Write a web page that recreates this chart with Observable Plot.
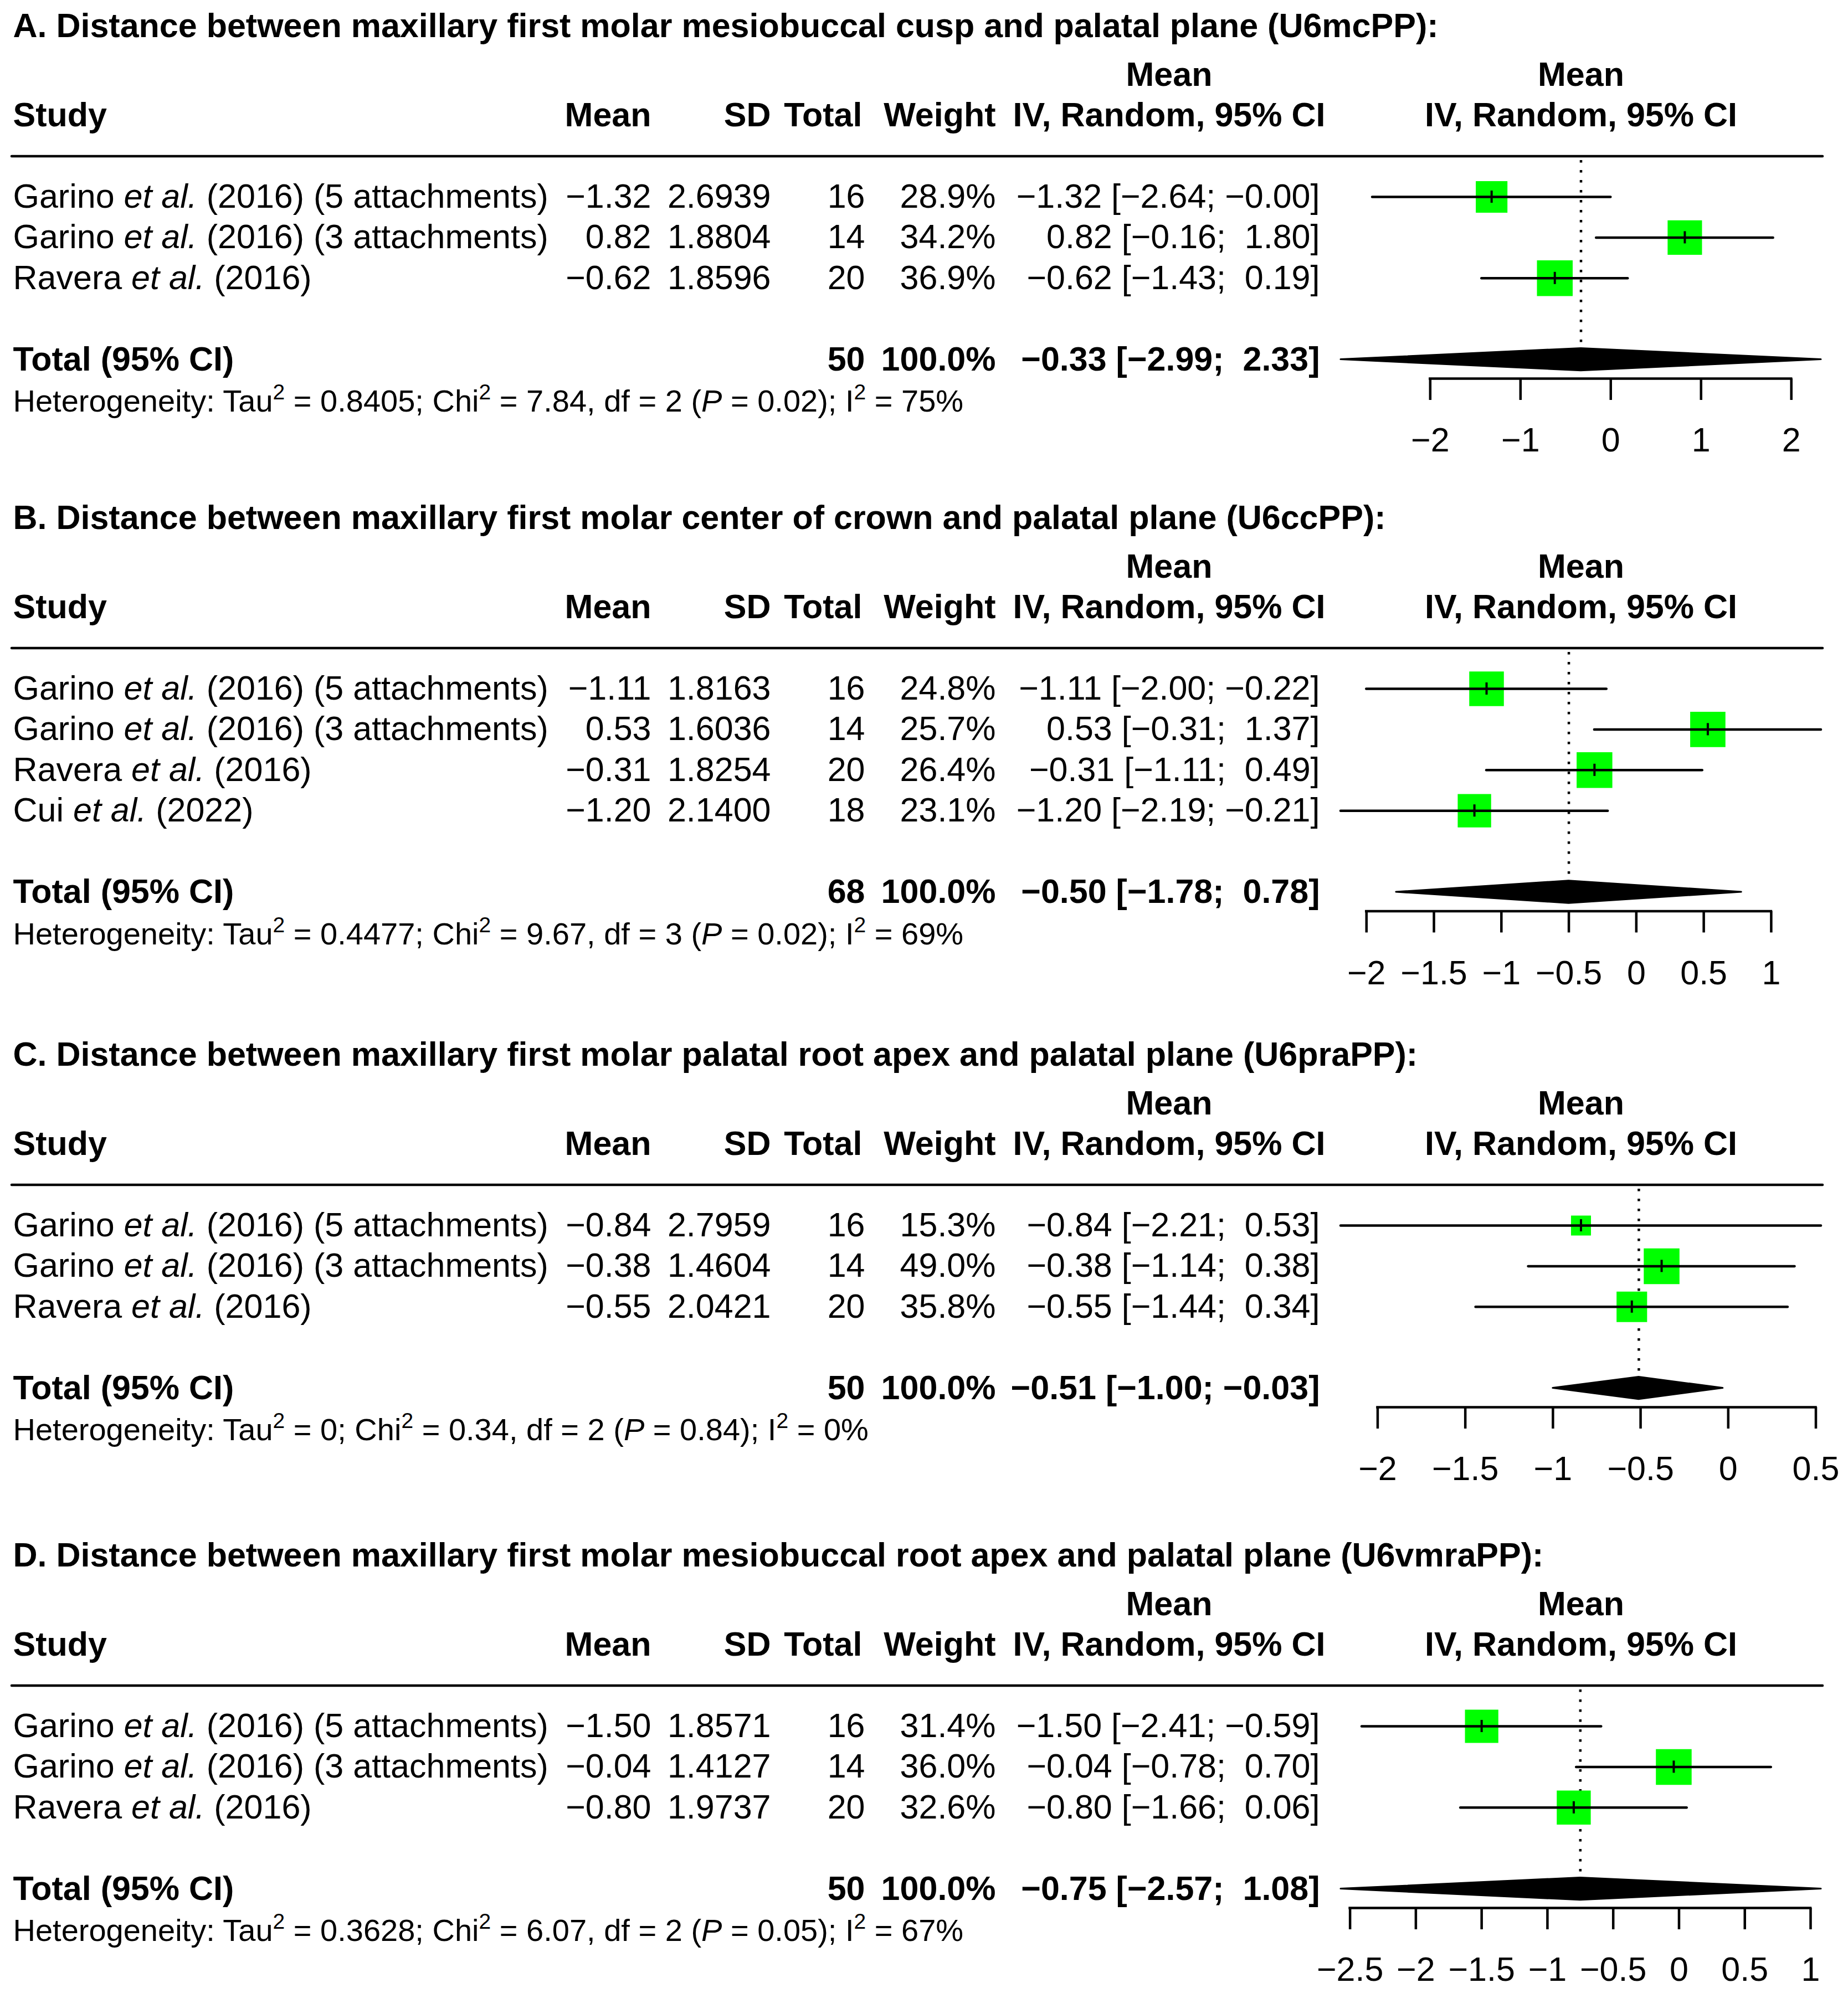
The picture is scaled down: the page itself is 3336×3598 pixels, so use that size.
<!DOCTYPE html>
<html>
<head>
<meta charset="utf-8">
<script src="https://cdn.jsdelivr.net/npm/d3@7"></script>
<script src="https://cdn.jsdelivr.net/npm/@observablehq/plot@0.6"></script>
<style>
  html, body { margin: 0; padding: 0; background: #fff; }
  svg { display: block; }
</style>
</head>
<body>
<script>
// ---------------- DATA ----------------
const titles = [
  "A. Distance between maxillary first molar mesiobuccal cusp and palatal plane (U6mcPP):",
  "B. Distance between maxillary first molar center of crown and palatal plane (U6ccPP):",
  "C. Distance between maxillary first molar palatal root apex and palatal plane (U6praPP):",
  "D. Distance between maxillary first molar mesiobuccal root apex and palatal plane (U6vmraPP):"
];

const studiesA = ["Garino et al. (2016) (5 attachments)", "Garino et al. (2016) (3 attachments)", "Ravera et al. (2016)"];
const meanA   = [-1.32, 0.82, -0.62];
const sdA     = [2.6939, 1.8804, 1.8596];
const nA      = [16, 14, 20];
const weightA = [28.9, 34.2, 36.9];
const loA     = [-2.64, -0.16, -1.43];
const hiA     = [-0.00, 1.80, 0.19];
const totalA  = [50, 100.0, -0.33, -2.99, 2.33];      // N, weight %, estimate, lower, upper
const hetA    = [0.8405, 7.84, 2, 0.02, 75];          // tau2, chi2, df, P, I2

const studiesB = ["Garino et al. (2016) (5 attachments)", "Garino et al. (2016) (3 attachments)", "Ravera et al. (2016)", "Cui et al. (2022)"];
const meanB   = [-1.11, 0.53, -0.31, -1.20];
const sdB     = [1.8163, 1.6036, 1.8254, 2.1400];
const nB      = [16, 14, 20, 18];
const weightB = [24.8, 25.7, 26.4, 23.1];
const loB     = [-2.00, -0.31, -1.11, -2.19];
const hiB     = [-0.22, 1.37, 0.49, -0.21];
const totalB  = [68, 100.0, -0.50, -1.78, 0.78];
const hetB    = [0.4477, 9.67, 3, 0.02, 69];

const studiesC = ["Garino et al. (2016) (5 attachments)", "Garino et al. (2016) (3 attachments)", "Ravera et al. (2016)"];
const meanC   = [-0.84, -0.38, -0.55];
const sdC     = [2.7959, 1.4604, 2.0421];
const nC      = [16, 14, 20];
const weightC = [15.3, 49.0, 35.8];
const loC     = [-2.21, -1.14, -1.44];
const hiC     = [0.53, 0.38, 0.34];
const totalC  = [50, 100.0, -0.51, -1.00, -0.03];
const hetC    = [0, 0.34, 2, 0.84, 0];

const studiesD = ["Garino et al. (2016) (5 attachments)", "Garino et al. (2016) (3 attachments)", "Ravera et al. (2016)"];
const meanD   = [-1.50, -0.04, -0.80];
const sdD     = [1.8571, 1.4127, 1.9737];
const nD      = [16, 14, 20];
const weightD = [31.4, 36.0, 32.6];
const loD     = [-2.41, -0.78, -1.66];
const hiD     = [-0.59, 0.70, 0.06];
const totalD  = [50, 100.0, -0.75, -2.57, 1.08];
const hetD    = [0.3628, 6.07, 2, 0.05, 67];

const panels = [
  {title: titles[0], study: studiesA, mean: meanA, sd: sdA, n: nA, weight: weightA, lo: loA, hi: hiA, total: totalA, het: hetA},
  {title: titles[1], study: studiesB, mean: meanB, sd: sdB, n: nB, weight: weightB, lo: loB, hi: hiB, total: totalB, het: hetB},
  {title: titles[2], study: studiesC, mean: meanC, sd: sdC, n: nC, weight: weightC, lo: loC, hi: hiC, total: totalC, het: hetC},
  {title: titles[3], study: studiesD, mean: meanD, sd: sdD, n: nD, weight: weightD, lo: loD, hi: hiD, total: totalD, het: hetD}
];

// ---------------- LAYOUT ----------------
const W = 3336;
const FS = 61;
const FS_HET = 56;
const ROW = 73.4;
const ROW0 = 355;
const panelHeights = [888, 969, 904, 837];
const MARGIN_LEFT = 21, MARGIN_RIGHT = 46;
const FOREST = [2420, 3287];
const COL = {study: 2, mean: 1154, sd: 1370, total: 1540, totalHead: 1535, weight: 1776, ci: 2361, ciHead: 2089};
const FONT = "'Liberation Sans', Arial, Helvetica, sans-serif";
const MINUS = "\u2212";

function fmt(v, d = 2) {
  const neg = v < 0 || Object.is(v, -0);
  return (neg ? MINUS : "") + Math.abs(v).toFixed(d);
}
function fmtPad(v) {
  const s = fmt(v);
  return s.startsWith(MINUS) ? s : "\u00a0" + s;
}
function ciText(est, lo, hi) {
  return `${fmt(est)} [${fmtPad(lo)}; ${fmtPad(hi)}]`;
}
function tickFmt(v) {
  return (v < 0 ? MINUS : "") + Math.abs(v).toString();
}

function panel(p, height) {
  const k = p.study.length;
  const rows = p.study.map((s, i) => ({
    i, study: s, mean: p.mean[i], sd: p.sd[i], n: p.n[i], w: p.weight[i], lo: p.lo[i], hi: p.hi[i]
  }));
  const [totN, totW, totEst, totLo, totHi] = p.total;
  const [tau2, chi2, df, pval, i2] = p.het;
  const xlo = Math.min(...p.lo, totLo), xhi = Math.max(...p.hi, totHi);
  const xmid = (xlo + xhi) / 2;
  const ticks = d3.ticks(xlo, xhi, 7);
  const yTot = k + 1, yHet = k + 2.04, yAxis = k + 1.47, yTickEnd = k + 2, yTickLab = k + 3;
  const hetText = `Heterogeneity: Tau^2 = ${tau2 === 0 ? "0" : tau2.toFixed(4)}; Chi^2 = ${chi2.toFixed(2)}, df = ${df} (P = ${pval.toFixed(2)}); I^2 = ${i2}%`;
  const diamond = [
    {x: totLo, y1: yTot, y2: yTot},
    {x: totEst, y1: yTot - 0.275, y2: yTot + 0.275},
    {x: totHi, y1: yTot, y2: yTot}
  ];

  const T = (data, o) => Plot.text(data, {frameAnchor: "left", fontSize: FS, ...o});
  const col = (data, accessor, dx, anchor) => T(data, {y: "i", text: accessor, dx, textAnchor: anchor});
  const one = [0];

  const svg = Plot.plot({
    width: W, height,
    marginLeft: MARGIN_LEFT, marginRight: MARGIN_RIGHT, marginTop: 0, marginBottom: 0,
    style: {fontFamily: FONT, background: "white", color: "black"},
    x: {type: "linear", domain: [xlo, xhi], range: FOREST, axis: null},
    y: {type: "linear", domain: [0, 1], range: [ROW0, ROW0 + ROW], axis: null},
    r: {type: "sqrt", domain: [0, d3.max(p.weight)], range: [0, 64.5 / Math.sqrt(Math.PI)]},
    marks: [
      // title
      T(one, {y: -4.2, text: () => p.title, dx: COL.study, textAnchor: "start", fontWeight: "bold"}),
      // header line 1
      T(one, {y: -3, text: () => "Mean", dx: COL.ciHead, textAnchor: "middle", fontWeight: "bold"}),
      Plot.text(one, {x: () => xmid, y: -3, text: () => "Mean", fontSize: FS, fontWeight: "bold"}),
      // header line 2
      T(one, {y: -2, text: () => "Study", dx: COL.study, textAnchor: "start", fontWeight: "bold"}),
      T(one, {y: -2, text: () => "Mean", dx: COL.mean, textAnchor: "end", fontWeight: "bold"}),
      T(one, {y: -2, text: () => "SD", dx: COL.sd, textAnchor: "end", fontWeight: "bold"}),
      T(one, {y: -2, text: () => "Total", dx: COL.totalHead, textAnchor: "end", fontWeight: "bold"}),
      T(one, {y: -2, text: () => "Weight", dx: COL.weight, textAnchor: "end", fontWeight: "bold"}),
      T(one, {y: -2, text: () => "IV, Random, 95% CI", dx: COL.ciHead, textAnchor: "middle", fontWeight: "bold"}),
      Plot.text(one, {x: () => xmid, y: -2, text: () => "IV, Random, 95% CI", fontSize: FS, fontWeight: "bold"}),
      // header rule
      Plot.ruleY([-1], {strokeWidth: 4.5, strokeLinecap: "round"}),
      // study rows
      col(rows, "study", COL.study, "start"),
      col(rows, d => fmt(d.mean), COL.mean, "end"),
      col(rows, d => d.sd.toFixed(4), COL.sd, "end"),
      col(rows, d => String(d.n), COL.total, "end"),
      col(rows, d => d.w.toFixed(1) + "%", COL.weight, "end"),
      col(rows, d => ciText(d.mean, d.lo, d.hi), COL.ci, "end"),
      // total row
      T(one, {y: yTot, text: () => "Total (95% CI)", dx: COL.study, textAnchor: "start", fontWeight: "bold"}),
      T(one, {y: yTot, text: () => String(totN), dx: COL.total, textAnchor: "end", fontWeight: "bold"}),
      T(one, {y: yTot, text: () => totW.toFixed(1) + "%", dx: COL.weight, textAnchor: "end", fontWeight: "bold"}),
      T(one, {y: yTot, text: () => ciText(totEst, totLo, totHi), dx: COL.ci, textAnchor: "end", fontWeight: "bold"}),
      // heterogeneity
      T(one, {y: yHet, text: () => hetText, dx: COL.study, textAnchor: "start", fontSize: FS_HET}),
      // dotted summary line
      Plot.ruleX([totEst], {y1: -0.9, y2: yTot - 0.36, strokeWidth: 4.5, strokeDasharray: "4.5,13.5"}),
      // squares
      Plot.dot(rows, {x: "mean", y: "i", r: "w", symbol: "square", fill: "#00ff00", stroke: null}),
      // CI lines
      Plot.ruleY(rows, {y: "i", x1: "lo", x2: "hi", strokeWidth: 4.5, strokeLinecap: "round"}),
      // estimate ticks
      Plot.ruleX(rows, {x: "mean", y1: d => d.i - 0.15, y2: d => d.i + 0.15, strokeWidth: 4}),
      // diamond
      Plot.area(diamond, {x1: "x", y1: "y1", y2: "y2", fill: "black", stroke: "black", strokeWidth: 3, strokeLinejoin: "round", curve: "linear"}),
      // axis
      Plot.ruleY([yAxis], {x1: ticks[0], x2: ticks[ticks.length - 1], strokeWidth: 4.5, strokeLinecap: "square"}),
      Plot.ruleX(ticks, {x: d => d, y1: yAxis, y2: yTickEnd, strokeWidth: 4.5}),
      Plot.text(ticks, {x: d => d, y: yTickLab, text: tickFmt, fontSize: FS})
    ]
  });
  richify(svg);
  return svg;
}

// Italic "et al." and "P", superscript "2" as tspans inside the SVG text
function richify(svg) {
  const NS = "http://www.w3.org/2000/svg";
  svg.querySelectorAll("text").forEach(t => {
    const s = t.textContent;
    if (!/et al\.|\^2|\(P = /.test(s)) return;
    const fs = parseFloat(t.getAttribute("font-size") || t.parentNode.getAttribute("font-size")) || FS;
    const SUP = Math.round(fs * 0.7), RAISE = Math.round(fs * 0.4);
    const re = /(et al\.)|(\^2)|(P(?= = \d))/g;
    const parts = [];
    let last = 0;
    for (const m of s.matchAll(re)) {
      if (m.index > last) parts.push({t: s.slice(last, m.index)});
      if (m[1]) parts.push({t: m[1], it: true});
      else if (m[2]) parts.push({t: "2", sup: true});
      else parts.push({t: "P", it: true});
      last = m.index + m[0].length;
    }
    if (last < s.length) parts.push({t: s.slice(last)});
    while (t.firstChild) t.removeChild(t.firstChild);
    let prevSup = false;
    for (const part of parts) {
      const ts = document.createElementNS(NS, "tspan");
      ts.textContent = part.t;
      if (part.it) ts.setAttribute("font-style", "italic");
      if (part.sup) {
        ts.setAttribute("font-size", SUP);
        ts.setAttribute("dy", -RAISE);
      } else if (prevSup) {
        ts.setAttribute("dy", RAISE);
      }
      prevSup = !!part.sup;
      t.appendChild(ts);
    }
  });
}

panels.forEach((p, idx) => document.body.appendChild(panel(p, panelHeights[idx])));
</script>
</body>
</html>
